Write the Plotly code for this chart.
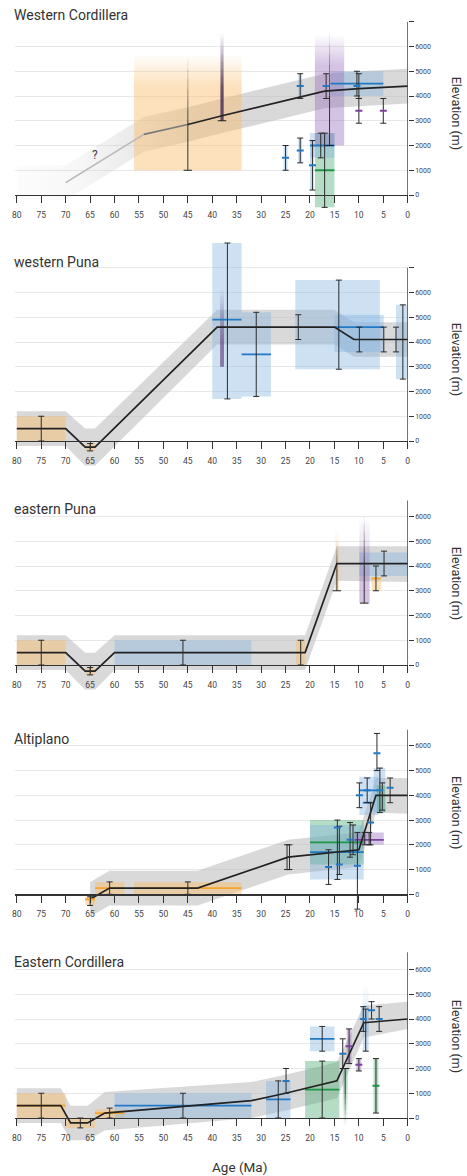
import plotly.graph_objects as go

# ---------------- data ----------------
TITLES = ["Western Cordillera", "western Puna", "eastern Puna", "Altiplano", "Eastern Cordillera"]
AGE_TICKS = list(range(0, 81, 5))
ELEV_TICKS = [0, 1000, 2000, 3000, 4000, 5000, 6000]
X_TITLE = "Age (Ma)"
Y_TITLE = "Elevation (m)"

# Panel 1 - Western Cordillera
P1_LINE_AGE = [70, 54, 45, 38, 17, 10, 0]
P1_LINE_ELEV = [500, 2450, 2850, 3200, 4200, 4300, 4400]
P1_BAND_AGE = [80, 70, 54, 45, 38, 17, 10, 0]
P1_BAND_HI = [1200, 1200, 3150, 3550, 3900, 4900, 5000, 5100]
P1_BAND_LO = [-200, -200, 1750, 2150, 2500, 3500, 3600, 3700]
P1_BOXES = [
    (25.4, 24.6, 1000, 2000, 'b', None),
    (22.4, 21.6, 1300, 2300, 'b', None),
    (20.0, 19.2, 200, 2200, 'b', None),
    (22.4, 21.6, 3900, 4900, 'b', None),
    (19.0, 15.0, -500, 2500, 'g', 1000),
    (20.0, 15.0, 1500, 2500, 'b', 2000),
    (15.8, 5.0, 4000, 5000, 'b', 4500),
]
P1_FADE_BOXES = [
    (56, 34, 1000, 5700, 'o', 'up'),
    (19, 13, 2000, 6500, 'p', 'up'),
    (38.4, 37.6, 3000, 6600, 'd', 'up'),
]
P1_FADE_LINES = [(45, 1000, 5500), (16, 2000, 6500), (38, 3000, 6300)]
P1_ERRS = [
    (25.0, 1000, 2000, 1500, 'b'),
    (22.0, 1300, 2300, 1800, 'b'),
    (19.5, 200, 2200, 1200, 'b'),
    (22.0, 3900, 4900, 4400, 'b'),
    (16.7, 3900, 4900, 4400, 'b'),
    (10.4, 4000, 5000, 4400, 'b'),
    (10.0, 3900, 4900, None, None),
    (10.0, 2900, 3900, 3400, 'p'),
    (5.0, 2900, 3900, 3400, 'p'),
    (17.0, -500, 2500, None, None),
    (17.8, 1500, 2500, None, None),
]

# Panel 2 - western Puna
P2_LINE_AGE = [80, 70, 66, 64, 39, 15, 11, 0]
P2_LINE_ELEV = [500, 500, -250, -250, 4600, 4600, 4100, 4100]
P2_BAND_HI = [1200, 1200, 500, 500, 5300, 5300, 4800, 4800]
P2_BAND_LO = [-200, -200, -1000, -1000, 3900, 3900, 3400, 3400]
P2_BOXES = [
    (80, 70, 0, 1000, 'o', None),
    (66, 64, -400, -100, 'o', None),
    (40, 34, 1700, 8000, 'b', 4900),
    (34, 28, 1800, 5200, 'b', 3500),
    (23, 5.7, 2900, 6500, 'b', None),
    (15, 4.9, 3600, 5100, 'b', 4600),
    (2.4, 0, 2500, 5500, 'b', None),
]
P2_FADE_BOXES = [(38.4, 37.6, 3000, 6200, 'd', 'up')]
P2_FADE_LINES = []
P2_ERRS = [
    (75.0, 0, 1000, None, None),
    (65.0, -400, -100, None, None),
    (36.9, 1700, 8000, None, None),
    (31.0, 1800, 5200, None, None),
    (22.4, 4100, 5100, None, None),
    (14.1, 2900, 6500, None, None),
    (9.9, 3600, 4600, None, None),
    (4.9, 3600, 4600, None, None),
    (2.4, 3600, 4600, None, None),
    (1.0, 2500, 5500, None, None),
]

# Panel 3 - eastern Puna
P3_LINE_AGE = [80, 70, 66, 64, 60, 21, 14.5, 0]
P3_LINE_ELEV = [500, 500, -250, -250, 500, 500, 4100, 4100]
P3_BAND_HI = [1200, 1200, 500, 500, 1200, 1200, 4800, 4800]
P3_BAND_LO = [-200, -200, -1000, -1000, -200, -200, 3400, 3350]
P3_BOXES = [
    (80, 70, 0, 1000, 'o', None),
    (66, 64, -400, -100, 'o', None),
    (60, 32, 0, 1000, 'b', None),
    (22.9, 21.0, 0, 1000, 'o', None),
    (9.9, 0, 3600, 4550, 'b', None),
    (7.4, 5.5, 3000, 3500, 'o', 3500),
]
P3_FADE_BOXES = [
    (14.9, 14.1, 3000, 5500, 'o', 'up'),
    (9.9, 7.8, 2500, 6000, 'p', 'up'),
]
P3_FADE_LINES = [(14.5, 3000, 5000), (8.9, 2500, 6000)]
P3_ERRS = [
    (75.0, 0, 1000, None, None),
    (65.0, -400, -100, None, None),
    (46.0, 0, 1000, None, None),
    (21.9, 0, 1000, None, None),
    (4.85, 3600, 4600, None, None),
    (6.5, 3000, 4000, None, None),
]

# Panel 4 - Altiplano
P4_LINE_AGE = [65, 61, 43, 24.5, 10, 6.5, 0]
P4_LINE_ELEV = [-200, 250, 250, 1500, 1800, 4000, 4000]
P4_BAND_HI = [500, 950, 950, 2200, 2500, 4700, 4700]
P4_BAND_LO = [-900, -450, -450, 800, 1100, 3300, 3250]
P4_BOXES = [
    (66, 64, -430, -100, 'o', -200),
    (64, 58, 0, 500, 'o', 250),
    (56, 34, 0, 500, 'o', 250),
    (20, 9, 1200, 3000, 'g', 2100),
    (20, 9, 600, 2800, 'b', 1700),
    (10.9, 4.9, 2000, 2500, 'p', 2200),
    (9.9, 6.0, 3200, 4750, 'b', 4200),
    (7.0, 4.6, 3300, 5100, 'b', None),
    (6.3, 4.6, 3300, 4400, 'g', None),
    (9.2, 7.2, 3700, 3700, 'b', 3700),
]
P4_FADE_BOXES = []
P4_FADE_LINES = []
P4_ERRS = [
    (65.0, -450, -100, -200, 'o'),
    (61.0, 0, 500, None, None),
    (45.0, 0, 500, None, None),
    (24.7, 1000, 2000, None, None),
    (24.2, 1000, 2000, 1500, None),
    (16.2, 400, 1800, 1100, 'b'),
    (14.4, 600, 3000, 2700, 'b'),
    (14.0, 800, 2750, 1200, 'b'),
    (11.8, 1500, 2900, 2200, 'b'),
    (11.2, 1600, 2800, None, None),
    (10.3, -600, 2500, 1150, 'b'),
    (8.8, 2000, 2500, None, None),
    (7.9, 2000, 2500, None, None),
    (9.9, 3500, 4500, 4000, 'b'),
    (8.3, 3700, 4700, 4200, 'b'),
    (7.6, 2000, 3700, 2900, 'b'),
    (6.3, 5000, 6500, 5700, 'b'),
    (5.7, 3300, 5100, 4200, 'b'),
    (5.2, 3400, 4500, None, None),
    (3.6, 3700, 4700, 4300, 'b'),
]

# Panel 5 - Eastern Cordillera
P5_LINE_AGE = [80, 71, 69, 65.5, 62, 32, 25, 14.5, 9, 0]
P5_LINE_ELEV = [500, 500, -200, -200, 200, 700, 1000, 1500, 3850, 4000]
P5_BAND_HI = [1200, 1200, 500, 500, 1050, 1450, 1750, 2250, 4550, 4700]
P5_BAND_LO = [-200, -200, -900, -900, -500, 0, 300, 800, 3250, 3600]
P5_BOXES = [
    (80, 70, 0, 1000, 'o', 500),
    (70, 64, -400, 0, 'o', None),
    (64, 58, 0, 350, 'o', 200),
    (60, 32, 0, 1000, 'b', 500),
    (29, 24, 0, 1500, 'b', 750),
    (20, 15, 2700, 3700, 'b', 3200),
    (21, 14, 0, 2300, 'g', 1150),
    (12.5, 11.5, 2200, 3600, 'p', None),
    (10.5, 9.5, 1900, 2400, 'p', None),
    (9.6, 8.0, 3500, 4500, 'b', None),
    (7.0, 6.0, 200, 2400, 'g', None),
]
P5_FADE_BOXES = [
    (9.2, 8.0, 2700, 5400, 'b', 'up'),
    (13.3, 12.3, -300, 2000, 'g', 'down'),
]
P5_FADE_LINES = [(12.8, 2000, -300)]
P5_ERRS = [
    (75.0, 0, 1000, None, None),
    (67.0, -400, 0, None, None),
    (61.0, 0, 400, None, None),
    (46.0, 0, 1000, None, None),
    (26.5, 0, 1500, None, None),
    (24.9, 1000, 2000, 1500, 'b'),
    (17.5, 2700, 3700, None, None),
    (17.5, 0, 2300, None, None),
    (13.3, 2000, 3200, 2600, 'b'),
    (12.0, 2200, 3600, 2900, 'p'),
    (10.0, 1900, 2400, 2150, 'p'),
    (9.1, 3500, 4500, 4000, 'b'),
    (8.6, 2700, 4400, None, None),
    (7.4, 4000, 4700, 4350, 'b'),
    (5.85, 3500, 4500, 4000, 'b'),
    (6.5, 200, 2400, 1300, 'g'),
]

QUESTION = (64, 1600, "?")

PANELS = [
    dict(line_age=P1_LINE_AGE, line_elev=P1_LINE_ELEV, band_age=P1_BAND_AGE, band_hi=P1_BAND_HI,
         band_lo=P1_BAND_LO, boxes=P1_BOXES, fades=P1_FADE_BOXES, flines=P1_FADE_LINES, errs=P1_ERRS),
    dict(line_age=P2_LINE_AGE, line_elev=P2_LINE_ELEV, band_age=P2_LINE_AGE, band_hi=P2_BAND_HI,
         band_lo=P2_BAND_LO, boxes=P2_BOXES, fades=P2_FADE_BOXES, flines=P2_FADE_LINES, errs=P2_ERRS),
    dict(line_age=P3_LINE_AGE, line_elev=P3_LINE_ELEV, band_age=P3_LINE_AGE, band_hi=P3_BAND_HI,
         band_lo=P3_BAND_LO, boxes=P3_BOXES, fades=P3_FADE_BOXES, flines=P3_FADE_LINES, errs=P3_ERRS),
    dict(line_age=P4_LINE_AGE, line_elev=P4_LINE_ELEV, band_age=P4_LINE_AGE, band_hi=P4_BAND_HI,
         band_lo=P4_BAND_LO, boxes=P4_BOXES, fades=P4_FADE_BOXES, flines=P4_FADE_LINES, errs=P4_ERRS),
    dict(line_age=P5_LINE_AGE, line_elev=P5_LINE_ELEV, band_age=P5_LINE_AGE, band_hi=P5_BAND_HI,
         band_lo=P5_BAND_LO, boxes=P5_BOXES, fades=P5_FADE_BOXES, flines=P5_FADE_LINES, errs=P5_ERRS),
]

# ---------------- style / layout ----------------
W, H = 467, 1176
X0PX, X1PX = 12, 410
ZERO_PX = [195, 441, 665, 894.3, 1118]
PX_PER_KM = 24.75
RANGE_LO = [-900, -1000, -1000, -1800, -1000]
RANGE_HI = [7000, 8200, 7000, 7000, 7000]
AXIS_TOP = [7000, 7000, 6650, 6650, 6700]
GRID_EXTRA = [True, True, False, False, False]
TITLE_PX = [15, 261.5, 509, 738.7, 962]
TITLE_X_PX = 9.5
FONT = "Roboto, 'Open Sans', sans-serif"

RGB = {'o': (248, 188, 105), 'b': (130, 180, 225), 'p': (150, 105, 185),
       'g': (70, 170, 110), 'd': (90, 50, 115)}
FILL_A = {'o': 0.45, 'b': 0.40, 'p': 0.40, 'g': 0.40, 'd': 0.6}
LINE_C = {'o': 'rgb(245,165,45)', 'b': 'rgb(35,120,195)', 'p': 'rgb(125,65,160)',
          'g': 'rgb(30,150,70)', None: 'rgba(0,0,0,0)'}
BAND_C = 'rgba(185,185,185,0.55)'
INK = '#222222'


def rgba(c, a):
    r, g, b = RGB[c]
    return f'rgba({r},{g},{b},{a})'


fig = go.Figure()


def poly(xs, ys, xa, ya, fill=None, grad=None):
    kw = dict(x=xs, y=ys, mode='lines', fill='toself',
              line=dict(width=0, color='rgba(0,0,0,0)'),
              hoverinfo='skip', showlegend=False, xaxis=xa, yaxis=ya)
    if grad is not None:
        kw['fillgradient'] = grad
    else:
        kw['fillcolor'] = fill
    fig.add_trace(go.Scatter(**kw))


def seg(xs, ys, xa, ya, color, width):
    fig.add_trace(go.Scatter(x=xs, y=ys, mode='lines', line=dict(color=color, width=width),
                             hoverinfo='skip', showlegend=False, xaxis=xa, yaxis=ya))


for i, P in enumerate(PANELS):
    n = i + 1
    xa = 'x' if n == 1 else f'x{n}'
    ya = 'y' if n == 1 else f'y{n}'

    # envelope band
    bx = list(P['band_age']) + list(P['band_age'])[::-1]
    by = list(P['band_hi']) + list(P['band_lo'])[::-1]
    if n == 1:
        grad = dict(type='horizontal', start=0, stop=80, colorscale=[
            [0, BAND_C], [0.55, BAND_C], [0.7, 'rgba(195,195,195,0.35)'],
            [0.85, 'rgba(205,205,205,0.16)'], [1, 'rgba(215,215,215,0.07)']])
        poly(bx, by, xa, ya, grad=grad)
    else:
        poly(bx, by, xa, ya, fill=BAND_C)

    # proxy boxes
    for (a0, a1, lo, hi, c, mid) in P['boxes']:
        if hi > lo:
            poly([a0, a1, a1, a0, a0], [lo, lo, hi, hi, lo], xa, ya, fill=rgba(c, FILL_A[c]))
    # fading boxes
    for (a0, a1, lo, hi, c, d) in P['fades']:
        wide = abs(a0 - a1) > 3
        f = 0.72 if wide else 0.3
        solid, clear = rgba(c, FILL_A[c]), rgba(c, 0)
        if d == 'up':
            cs = [[0, solid], [f, solid], [1, clear]]
        else:
            cs = [[0, clear], [1 - f, solid], [1, solid]]
        poly([a0, a1, a1, a0, a0], [lo, lo, hi, hi, lo], xa, ya,
             grad=dict(type='vertical', colorscale=cs))
    # box mid lines
    for (a0, a1, lo, hi, c, mid) in P['boxes']:
        if mid is not None:
            seg([a0, a1], [mid, mid], xa, ya, LINE_C[c], 1.8)

    # main elevation line
    la, le = P['line_age'], P['line_elev']
    if n == 1:
        seg(la[0:2], le[0:2], xa, ya, '#b8b8b8', 1.6)
        seg(la[1:3], le[1:3], xa, ya, '#7a7a7a', 1.6)
        seg(la[2:], le[2:], xa, ya, INK, 1.7)
    else:
        seg(la, le, xa, ya, INK, 1.7)

    # fading vertical lines
    for (age, y0, y1) in P['flines']:
        ym = y0 + 0.45 * (y1 - y0)
        seg([age, age], [y0, ym], xa, ya, 'rgba(34,34,34,0.9)', 1)
        steps = 6
        for k in range(steps):
            ya0 = ym + (y1 - ym) * k / steps
            ya1 = ym + (y1 - ym) * (k + 1) / steps
            alpha = 0.8 * (1 - (k + 0.5) / steps)
            seg([age, age], [ya0, ya1], xa, ya, f'rgba(34,34,34,{alpha:.2f})', 1)
        fig.add_trace(go.Scatter(x=[age], y=[y0], mode='markers',
                                 marker=dict(symbol='line-ew-open', size=6, color=INK,
                                             line=dict(color=INK, width=1)),
                                 hoverinfo='skip', showlegend=False, xaxis=xa, yaxis=ya))

    # error bars with central value dashes
    ex, ey, ep, em, mc = [], [], [], [], []
    for (age, lo, hi, mid, c) in P['errs']:
        yv = mid if mid is not None else (lo + hi) / 2
        ex.append(age)
        ey.append(yv)
        ep.append(hi - yv)
        em.append(yv - lo)
        mc.append(LINE_C[c] if mid is not None else 'rgba(0,0,0,0)')
    fig.add_trace(go.Scatter(
        x=ex, y=ey, mode='markers',
        marker=dict(symbol='line-ew-open', size=5, color=mc, line=dict(color=mc, width=2)),
        error_y=dict(type='data', symmetric=False, array=ep, arrayminus=em,
                     color='#2a2a2a', thickness=1, width=3),
        hoverinfo='skip', showlegend=False, xaxis=xa, yaxis=ya))

    # axes
    z = ZERO_PX[i]
    lo, hi = RANGE_LO[i], RANGE_HI[i]
    dom_b = 1 - (z - lo / 1000 * PX_PER_KM) / H
    dom_t = 1 - (z - hi / 1000 * PX_PER_KM) / H
    tickvals = ELEV_TICKS + ([7000] if GRID_EXTRA[i] else [])
    ticktext = [str(v) for v in ELEV_TICKS] + ([''] if GRID_EXTRA[i] else [])
    fig.update_layout(**{
        ('xaxis' if n == 1 else f'xaxis{n}'): dict(
            domain=[X0PX / W, X1PX / W], range=[80.4, 0], anchor='free', position=1 - z / H,
            tickmode='array', tickvals=AGE_TICKS, ticktext=[str(v) for v in AGE_TICKS],
            ticks='outside', ticklen=7, tickwidth=1, tickcolor='#333', ticklabelstandoff=4,
            showline=True, linecolor='#333', linewidth=1.3, showgrid=False, zeroline=False,
            tickfont=dict(size=8.5, color='#444', family=FONT), fixedrange=True),
        ('yaxis' if n == 1 else f'yaxis{n}'): dict(
            domain=[dom_b, dom_t], range=[lo, hi], anchor=xa, side='right',
            tickmode='array', tickvals=tickvals, ticktext=ticktext,
            ticks='outside', ticklen=5, tickwidth=1, tickcolor='#333',
            showline=False, showgrid=True, gridcolor='#e8e8e8', gridwidth=1, zeroline=False,
            tickfont=dict(size=7, color='#444', family=FONT), fixedrange=True),
    })
    # y axis line (from 0 up to the axis top)
    fig.add_shape(type='line', xref=xa, yref=ya, x0=0, x1=0, y0=0, y1=AXIS_TOP[i],
                  line=dict(color=INK, width=1.2))
    # panel title
    fig.add_annotation(text=TITLES[i], xref='paper', yref='paper', x=TITLE_X_PX / W,
                       y=1 - TITLE_PX[i] / H, xanchor='left', yanchor='middle', showarrow=False,
                       font=dict(size=14, color='#333', family=FONT))
    # y title
    fig.add_annotation(text=Y_TITLE, xref='paper', yref=ya, x=459.5 / W, y=3300,
                       xanchor='center', yanchor='middle', textangle=90, showarrow=False,
                       font=dict(size=12.5, color='#333', family=FONT))

fig.add_annotation(text=QUESTION[2], xref='x', yref='y', x=QUESTION[0], y=QUESTION[1],
                   showarrow=False, font=dict(size=12, color='#444', family=FONT))
fig.add_annotation(text=X_TITLE, xref='paper', yref='paper', x=240 / W, y=1 - 1167 / H,
                   xanchor='center', yanchor='middle', showarrow=False,
                   font=dict(size=13.5, color='#333', family=FONT))

fig.update_layout(width=W, height=H, autosize=False, margin=dict(l=0, r=0, t=0, b=0),
                  paper_bgcolor='white', plot_bgcolor='rgba(0,0,0,0)', showlegend=False,
                  font=dict(family=FONT))

fig.write_html("out.html", config={'displayModeBar': False, 'staticPlot': True},
               post_script="document.body.style.margin='0px';")
